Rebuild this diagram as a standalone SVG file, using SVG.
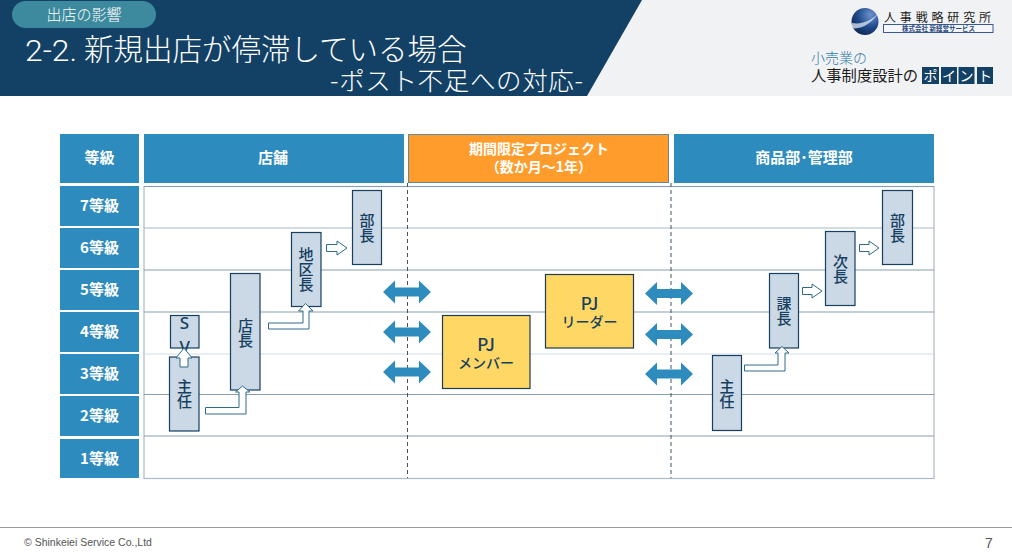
<svg xmlns="http://www.w3.org/2000/svg" width="1012" height="560" viewBox="0 0 1012 560">
<style>
text{font-family:"Noto Sans CJK JP","Noto Sans",sans-serif}
.h{fill:#fff;font-size:15px;font-weight:700;text-anchor:middle}
.lab{fill:#2e8bbd}
.rl{stroke:#8a9dab;stroke-width:1.2;fill:none}
.rl2{stroke:#a9bac8;stroke-width:1.2;fill:none}
.box{fill:#cbd8e6;stroke:#173f5f;stroke-width:1.2}
.pj{fill:#ffd765;stroke:#1f3b4d;stroke-width:1.2}
.t{fill:#173f5f;font-size:15px;font-weight:500;text-anchor:middle}
.v{writing-mode:vertical-rl}
.ho{fill:#fff;stroke:#2f6b88;stroke-width:1}
.da{fill:#2e8bbd}
.dash{stroke:#3f5666;stroke-width:1;stroke-dasharray:4 3;fill:none}
.pt{fill:#134166}
.ptt{fill:#fff;font-size:14px;text-anchor:middle}
</style>
<defs>
<path id="dbl" d="M-24 0L-12-11.500V-4.500H12V-11.500L24 0L12 11.500V4.500H-12V11.500Z"/>
<radialGradient id="globe" cx="0.7" cy="0.25" r="0.85"><stop offset="0" stop-color="#6d93cc"/><stop offset="0.55" stop-color="#1f4a8c"/><stop offset="1" stop-color="#11264a"/></radialGradient>
</defs>
<rect width="1012" height="560" fill="#fff"/>
<g id="header">
<rect x="0" y="0" width="1012" height="96" fill="#f1f2f3"/>
<polygon points="0,0 642,0 587,96 0,96" fill="#134166"/>
<rect x="12" y="1" width="144" height="27" rx="13.500" fill="#3d8a9e"/>
<text x="84" y="20" fill="#fff" font-size="15" font-weight="300" text-anchor="middle">出店の影響</text>
<text x="25" y="61" fill="#fff" font-size="30" font-weight="300" textLength="52" lengthAdjust="spacingAndGlyphs" style="font-family:Roboto,sans-serif">2-2.</text>
<text x="84" y="60" fill="#fff" font-size="29.500" font-weight="300">新規出店が停滞している場合</text>
<text x="330" y="90" fill="#fff" font-size="25.500" font-weight="300" textLength="253">-ポスト不足への対応-</text>
</g>
<g id="logo">
<circle cx="865" cy="21.500" r="13.500" fill="url(#globe)"/>
<path d="M852 28C860 30 872 24 879 12C873 20 862 25 852 23Z" fill="#dfe8f4" opacity="0.75"/>
<text x="884" y="22" fill="#222" font-size="12" textLength="107">人事戦略研究所</text>
<rect x="883.500" y="24.500" width="109.500" height="8" fill="#f4f6fa" stroke="#3b5a90" stroke-width="1"/>
<text x="938.500" y="31" fill="#2b4a80" font-size="6.500" text-anchor="middle" font-weight="700">株式会社 新経営サービス</text>
<text x="811" y="63" fill="#2e77a8" font-size="14" font-weight="300">小売業の</text>
<text x="811" y="81" fill="#1c1c1c" font-size="15.300">人事制度設計の</text>
<rect class="pt" x="922" y="67" width="17" height="17"/><text class="ptt" x="930.500" y="80.500">ポ</text>
<rect class="pt" x="941" y="67" width="16" height="17"/><text class="ptt" x="949" y="80.500">イ</text>
<rect class="pt" x="958.500" y="67" width="16" height="17"/><text class="ptt" x="966.500" y="80.500">ン</text>
<rect class="pt" x="977" y="67" width="16" height="17"/><text class="ptt" x="985" y="80.500">ト</text>
</g>
<g id="rows">
<rect x="144" y="186.500" width="790" height="292" fill="#fff" class="rl2"/>
<path class="rl" d="M144 186.500H934M144 270H934M144 312H934M144 394.500H934M144 436H934"/>
<path class="rl2" d="M144 228H934"/>
<path d="M144 354H934" stroke="#cfe0ea" stroke-width="1.200"/>
</g>
<g id="row-labels">
<rect class="lab" x="60" y="134" width="79" height="49"/><text class="h" x="99.500" y="163">等級</text>
<rect class="lab" x="60" y="186" width="79" height="40"/><text class="h" x="99.500" y="211">7等級</text>
<rect class="lab" x="60" y="228" width="79" height="40"/><text class="h" x="99.500" y="253">6等級</text>
<rect class="lab" x="60" y="270" width="79" height="40"/><text class="h" x="99.500" y="295">5等級</text>
<rect class="lab" x="60" y="312" width="79" height="40"/><text class="h" x="99.500" y="337">4等級</text>
<rect class="lab" x="60" y="354" width="79" height="40"/><text class="h" x="99.500" y="379">3等級</text>
<rect class="lab" x="60" y="396" width="79" height="40"/><text class="h" x="99.500" y="421">2等級</text>
<rect class="lab" x="60" y="439" width="79" height="39"/><text class="h" x="99.500" y="464">1等級</text>
</g>
<g id="col-store"><rect class="lab" x="144" y="134" width="260" height="49"/><text class="h" x="273" y="163">店舗</text></g>
<g id="col-project"><rect x="408.500" y="134.500" width="260" height="48" fill="#ff9c2b" stroke="#5f8a9e" stroke-width="1"/><text class="h" x="539" y="154" style="font-size:14px">期間限定プロジェクト<tspan x="539" dy="18">（数か月～1年）</tspan></text></g>
<g id="col-dept"><rect class="lab" x="674" y="134" width="260" height="49"/><text class="h" x="804" y="163">商品部･管理部</text></g>
<g id="connectors">
<path class="dash" d="M407.500 183V478M671 183V478"/>
<use href="#dbl" class="da" x="407" y="292"/><use href="#dbl" class="da" x="407" y="332"/><use href="#dbl" class="da" x="407" y="372"/>
<use href="#dbl" class="da" x="669" y="293.500"/><use href="#dbl" class="da" x="669" y="334.500"/><use href="#dbl" class="da" x="669" y="374"/>
</g>
<g id="n-shunin-l"><rect class="box" x="169.500" y="357" width="29.500" height="74"/><text class="t v" x="184.500" y="394">主任</text></g>
<g id="n-sv"><rect class="box" x="170.500" y="315.500" width="28.500" height="32.500"/><text class="t v" x="184.500" y="335" letter-spacing="1" style="font-size:17px;text-orientation:upright;font-family:'Noto Sans',sans-serif">SV</text></g>
<g id="n-tencho"><rect class="box" x="230.500" y="273.500" width="29.500" height="116.500"/><text class="t v" x="245.500" y="333">店長</text></g>
<g id="n-chiku"><rect class="box" x="291.500" y="232.500" width="29.500" height="74"/><text class="t v" x="306" y="269.500">地区長</text></g>
<g id="n-bucho-l"><rect class="box" x="352.500" y="190.500" width="29" height="74"/><text class="t v" x="367" y="228">部長</text></g>
<g id="n-shunin-r"><rect class="box" x="712.500" y="355.500" width="29" height="75"/><text class="t v" x="727" y="393.500">主任</text></g>
<g id="n-kacho"><rect class="box" x="769.500" y="273.500" width="29" height="74.500"/><text class="t v" x="784" y="311">課長</text></g>
<g id="n-jicho"><rect class="box" x="825.500" y="231.500" width="29.500" height="74"/><text class="t v" x="840.500" y="268.500">次長</text></g>
<g id="n-bucho-r"><rect class="box" x="882.500" y="190.500" width="30" height="74"/><text class="t v" x="897.500" y="228">部長</text></g>
<g id="n-pj-member"><rect class="pj" x="442.500" y="315.500" width="87.500" height="73"/><text class="t" x="486" y="351" style="font-size:17px">PJ<tspan x="486" dy="17" style="font-size:14px">メンバー</tspan></text></g>
<g id="n-pj-leader"><rect class="pj" x="545.500" y="274.500" width="88" height="73.500"/><text class="t" x="589.500" y="310" style="font-size:17px">PJ<tspan x="589.500" dy="16.500" style="font-size:14px">リーダー</tspan></text></g>
<g id="hollow-arrows">
<path class="ho" d="M205.500 407.500H239V392H235.500L242.500 386L250 392H246V414H205.500Z"/>
<path class="ho" d="M268.500 323H303V311H298.500L305.500 303.500L313 311H309V329H268.500Z"/>
<path class="ho" d="M744.500 365H778V353H775L782 346.500L789 353H785V371H744.500Z"/>
<path class="ho" d="M180 367V358H176L184 348L192 358H188V367Z"/>
<path class="ho" d="M326.500 244.500H337V241L347 248L337 255V251.500H326.500Z"/>
<path class="ho" d="M859.500 244.500H869V241L879 248L869 255V251.500H859.500Z"/>
<path class="ho" d="M802.500 287.500H812V284L822 291L812 298V294.500H802.500Z"/>
</g>
<g id="footer">
<line x1="0" y1="527.500" x2="1012" y2="527.500" stroke="#9a9a9a" stroke-width="1"/>
<text x="24" y="546" fill="#555" font-size="10.500" style="font-family:'Liberation Sans',sans-serif">© Shinkeiei Service Co.,Ltd</text>
<text x="989" y="548" fill="#555" font-size="14" text-anchor="middle" style="font-family:'Liberation Sans',sans-serif">7</text>
</g>
</svg>
